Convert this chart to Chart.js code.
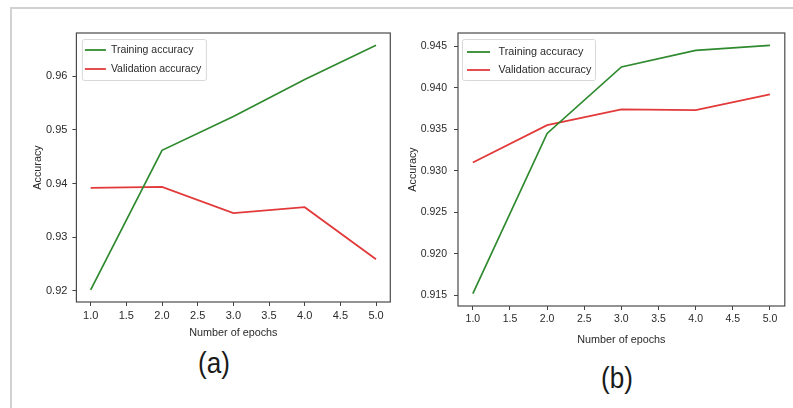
<!DOCTYPE html>
<html>
<head>
<meta charset="utf-8">
<title>Training and validation accuracy</title>
<script src="https://cdn.jsdelivr.net/npm/chart.js@4/dist/chart.umd.min.js"></script>
<style>
  html, body { margin: 0; padding: 0; background: #fff; }
  body { width: 793px; height: 408px; position: relative; overflow: hidden; }
  #frame {
    position: absolute; left: 10px; top: 7px; right: 0; bottom: 0;
    border-left: 2px solid #d2d2d2; border-top: 2px solid #d2d2d2;
  }
  canvas { position: absolute; top: 0; }
  .cap {
    position: absolute; line-height: 1;
    font-family: 'Liberation Sans', Arial, sans-serif; font-size: 29px; color: #1a1a1a;
    transform: translateX(-50%) scaleX(0.9);
  }
</style>
</head>
<body>
<div id="frame"></div>
<canvas id="chartA" width="400" height="345" style="left:0"></canvas>
<canvas id="chartB" width="393" height="350" style="left:400px"></canvas>
<div class="cap" style="left:214px; top:349px">(a)</div>
<div class="cap" style="left:617px; top:364px">(b)</div>

<script>
const epochs = [1, 2, 3, 4, 5];
const epochTicks = [1.0, 1.5, 2.0, 2.5, 3.0, 3.5, 4.0, 4.5, 5.0];

// run (a)
const trainAccA = [0.9202, 0.9462, 0.9525, 0.9594, 0.9658];
const valAccA   = [0.9392, 0.9394, 0.9345, 0.9356, 0.9259];
const accTicksA = [0.92, 0.93, 0.94, 0.95, 0.96];

// run (b)
const trainAccB = [0.9152, 0.9345, 0.9425, 0.9445, 0.9451];
const valAccB   = [0.9310, 0.9355, 0.9374, 0.9373, 0.9392];
const accTicksB = [0.915, 0.920, 0.925, 0.930, 0.935, 0.940, 0.945];

const FONT = "'Liberation Sans', Arial, sans-serif";
const TEXT = '#2a2a2a';
const GREEN = '#2f8a2f';
const RED = '#e23a3a';

// 5% padding on each side, like pyplot's default autoscale
function padded(values) {
  const lo = Math.min(...values), hi = Math.max(...values);
  const m = (hi - lo) * 0.05;
  return { min: lo - m, max: hi + m };
}

function points(ys) {
  return epochs.map((x, i) => ({ x: x, y: ys[i] }));
}

// box around the plotting area
const spines = {
  id: 'spines',
  afterDatasetsDraw(chart) {
    const a = chart.chartArea, ctx = chart.ctx;
    ctx.save();
    ctx.strokeStyle = '#4a4a4a';
    ctx.lineWidth = 1.2;
    ctx.strokeRect(a.left, a.top, a.right - a.left, a.bottom - a.top);
    ctx.restore();
  }
};

// legend drawn inside the axes, upper left
const innerLegend = {
  id: 'innerLegend',
  afterDraw(chart, args, opts) {
    const a = chart.chartArea, ctx = chart.ctx;
    const x0 = a.left + opts.dx, y0 = a.top + opts.dy;
    ctx.save();
    ctx.fillStyle = 'rgba(255,255,255,0.85)';
    ctx.strokeStyle = '#d8d8d8';
    ctx.lineWidth = 1;
    ctx.beginPath();
    ctx.roundRect(x0 + 0.5, y0 + 0.5, opts.w, opts.h, 2);
    ctx.fill();
    ctx.stroke();
    ctx.font = opts.fontSize + 'px ' + FONT;
    ctx.textBaseline = 'middle';
    chart.data.datasets.forEach((ds, i) => {
      const y = y0 + opts.firstRow + i * opts.rowGap;
      ctx.strokeStyle = ds.borderColor;
      ctx.lineWidth = 1.8;
      ctx.beginPath();
      ctx.moveTo(x0 + opts.lineStart, y);
      ctx.lineTo(x0 + opts.lineStart + opts.lineLen, y);
      ctx.stroke();
      ctx.fillStyle = TEXT;
      ctx.fillText(ds.label, x0 + opts.textStart, y);
    });
    ctx.restore();
  }
};

function makeChart(id, train, val, accTicks, digits, cfg) {
  const yr = padded(train.concat(val));
  return new Chart(document.getElementById(id), {
    type: 'line',
    data: {
      datasets: [
        { label: 'Training accuracy', data: points(train), borderColor: GREEN, borderWidth: 1.7 },
        { label: 'Validation accuracy', data: points(val), borderColor: RED, borderWidth: 1.8 }
      ]
    },
    options: {
      responsive: false,
      animation: false,
      events: [],
      elements: { point: { radius: 0 }, line: { tension: 0 } },
      layout: { padding: { top: 33, right: cfg.padRight, left: 0, bottom: cfg.padBottom } },
      plugins: {
        legend: { display: false },
        tooltip: { enabled: false },
        innerLegend: cfg.legend
      },
      scales: {
        x: {
          type: 'linear',
          min: 0.8,
          max: 5.2,
          afterFit(s) { s.height = cfg.xHeight; },
          afterBuildTicks(s) { s.ticks = epochTicks.map(v => ({ value: v })); },
          border: { display: false },
          grid: { drawOnChartArea: false, tickLength: 4, tickColor: '#444', tickWidth: 1 },
          ticks: {
            padding: 3,
            color: TEXT,
            font: { family: FONT, size: cfg.tickSize },
            maxRotation: 0,
            callback: v => v.toFixed(1)
          },
          title: {
            display: true,
            text: 'Number of epochs',
            color: TEXT,
            font: { family: FONT, size: 10.8 },
            padding: { top: 0, bottom: cfg.xTitlePad }
          }
        },
        y: {
          type: 'linear',
          min: yr.min,
          max: yr.max,
          afterFit(s) { s.width = cfg.yWidth; },
          afterBuildTicks(s) { s.ticks = accTicks.map(v => ({ value: v })); },
          border: { display: false },
          grid: { drawOnChartArea: false, tickLength: 4, tickColor: '#444', tickWidth: 1 },
          ticks: {
            padding: cfg.yTickPad,
            color: TEXT,
            font: { family: FONT, size: cfg.tickSize },
            callback: v => v.toFixed(digits)
          },
          title: {
            display: true,
            text: 'Accuracy',
            color: TEXT,
            font: { family: FONT, size: 10.8 },
            padding: { top: cfg.yTitlePad, bottom: 0 }
          }
        }
      }
    },
    plugins: [spines, innerLegend]
  });
}

makeChart('chartA', trainAccA, valAccA, accTicksA, 2, {
  padRight: 9.7, padBottom: 3, xHeight: 40, yWidth: 76.4,
  tickSize: 11, yTickPad: 5, xTitlePad: 2.4, yTitlePad: 32,
  legend: { dx: 5.5, dy: 6, w: 124, h: 41, firstRow: 11, rowGap: 19,
            lineStart: 3, lineLen: 21, textStart: 29, fontSize: 10.5 }
});

makeChart('chartB', trainAccB, valAccB, accTicksB, 3, {
  padRight: 8.2, padBottom: 0, xHeight: 44, yWidth: 58,
  tickSize: 10.5, yTickPad: 7, xTitlePad: 3.4, yTitlePad: 6.4,
  legend: { dx: 4, dy: 6, w: 133, h: 41, firstRow: 13, rowGap: 18,
            lineStart: 5, lineLen: 23, textStart: 36.5, fontSize: 10.8 }
});
</script>
</body>
</html>
